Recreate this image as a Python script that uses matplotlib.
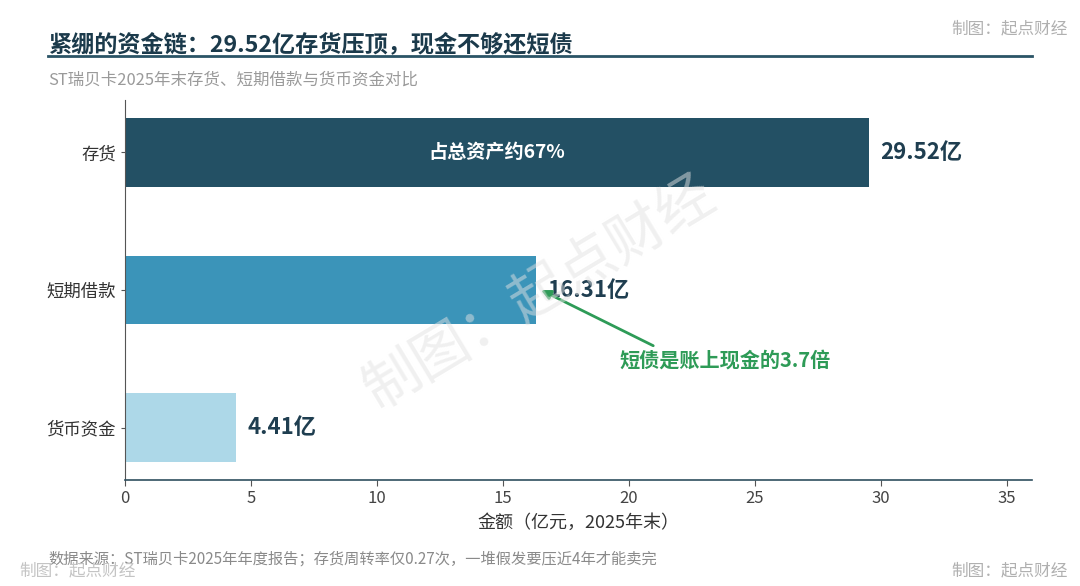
import matplotlib
matplotlib.use('Agg')
import matplotlib.pyplot as plt

plt.rcParams['font.family'] = ['Noto Sans CJK SC', 'DejaVu Sans']

categories = ['存货', '短期借款', '货币资金']
values = [29.52, 16.31, 4.41]
value_labels = ['29.52亿', '16.31亿', '4.41亿']
colors = ['#235064', '#3b94b9', '#add8e8']
xticks = [0, 5, 10, 15, 20, 25, 30, 35]

title = '紧绷的资金链：29.52亿存货压顶，现金不够还短债'
subtitle = 'ST瑞贝卡2025年末存货、短期借款与货币资金对比'
source = '数据来源：ST瑞贝卡2025年年度报告；存货周转率仅0.27次，一堆假发要压近4年才能卖完'
mark = '制图：起点财经'
inner_note = '占总资产约67%'
ratio_note = '短债是账上现金的3.7倍'

fig = plt.figure(figsize=(10.8, 5.86), dpi=100)
ax = fig.add_axes([0.1157, 0.181, 0.84, 0.648])

ypos = [2, 1, 0]
ax.barh(ypos, values, height=0.5, color=colors)
ax.set_ylim(-0.38, 2.38)
ax.set_xlim(0, 36)
ax.set_yticks(ypos)
ax.set_yticklabels(categories, fontsize=12.5, color='#333333')
ax.set_xticks(xticks)
ax.set_xticklabels([str(t) for t in xticks], fontsize=12, color='#444444')
ax.tick_params(axis='y', length=3, color='#555555')
ax.tick_params(axis='x', length=4, color='#555555')
ax.set_xlabel('金额（亿元，2025年末）', fontsize=13, color='#333333', labelpad=5)
for s in ['top', 'right']:
    ax.spines[s].set_visible(False)
ax.spines['left'].set_color('#555555')
ax.spines['bottom'].set_color('#2f4f5f')
ax.spines['bottom'].set_linewidth(1.2)

for y, v, lab in zip(ypos, values, value_labels):
    ax.text(v + 0.45, y, lab, va='center', ha='left', fontsize=16,
            fontweight='bold', color='#1f3e50')

ax.text(values[0] / 2, ypos[0], inner_note, ha='center', va='center',
        fontsize=13.8, fontweight='bold', color='white')

ax.annotate(ratio_note, xy=(values[1] + 0.2, ypos[1]), xytext=(23.8, 0.49),
            ha='center', va='center', fontsize=14.5, fontweight='bold', color='#2e9b57',
            arrowprops=dict(arrowstyle='-|>', color='#2e9b57', lw=2,
                            relpos=(0.2, 1.0), shrinkA=2, shrinkB=0,
                            mutation_scale=14))

# header
fig.text(0.0444, 0.922, title, fontsize=16.7, fontweight='bold', color='#1b3a4b',
         ha='left', va='center')
fig.add_artist(plt.Line2D([0.0444, 0.9556], [0.904, 0.904], color='#2a5466', lw=2))
fig.text(0.0444, 0.863, subtitle, fontsize=11.85, color='#9a9a9a', ha='left', va='center')
fig.text(0.0444, 0.046, source, fontsize=11, color='#8a8a8a', ha='left', va='center')

# watermarks
fig.text(0.989, 0.951, mark, fontsize=12, color='#b0b0b0', ha='right', va='center')
fig.text(0.989, 0.025, mark, fontsize=12, color='#b0b0b0', ha='right', va='center')
fig.text(0.018, 0.025, mark, fontsize=12, color='#c4c4c4', ha='left', va='center')
fig.text(0.5, 0.5, mark, fontsize=41, color='#e2e2e2', alpha=0.5, ha='center',
         va='center', rotation=31, zorder=10)

fig.savefig('out.png', dpi=100, facecolor='white')
